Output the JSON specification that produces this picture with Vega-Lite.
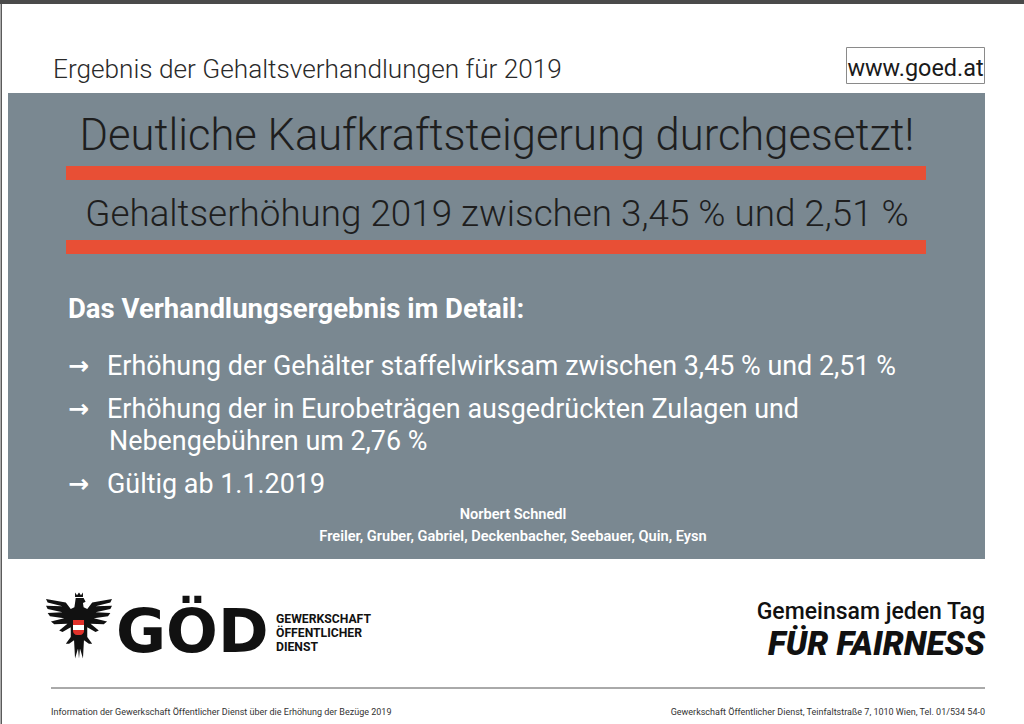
{
  "$schema": "https://vega.github.io/schema/vega-lite/v6.json",
  "width": 1024,
  "height": 724,
  "padding": 0,
  "autosize": {"type": "fit", "contains": "padding"},
  "background": "#ffffff",
  "config": {"view": {"stroke": null}},
  "datasets": {
    "topbar": [{"x": 0, "x2": 1024, "y": 0, "y2": 4}],
    "leftline": [{"x": 0.5, "x2": 2, "y": 4, "y2": 724}],
    "panel": [{"x": 8, "x2": 985, "y": 93, "y2": 559}],
    "redbars": [{"x": 66, "x2": 926, "y": 166, "y2": 180}, {"x": 66, "x2": 926, "y": 240, "y2": 254}],
    "urlbox": [{"x": 846.5, "x2": 984.5, "y": 47.5, "y2": 83.5}],
    "rules": [{"x": 51, "x2": 985, "y": 688}],
    "eagle": [{"x": 79, "y": 625.5}],
    "shieldred": [{"x": 73, "x2": 84, "y": 620, "y2": 635}],
    "shieldwhite": [{"x": 73, "x2": 84, "y": 625, "y2": 630}],
    "header": [{"x": 53, "y": 78, "t": "Ergebnis der Gehaltsverhandlungen für 2019"}],
    "url": [{"x": 915.5, "y": 76, "t": "www.goed.at"}],
    "title1": [{"x": 497, "y": 150, "t": "Deutliche Kaufkraftsteigerung durchgesetzt!"}],
    "title2": [{"x": 497, "y": 226, "t": "Gehaltserhöhung 2019 zwischen 3,45 % und 2,51 %"}],
    "subhead": [{"x": 68, "y": 318, "t": "Das Verhandlungsergebnis im Detail:"}],
    "arrows": [{"x": 68, "y": 374, "t": "→"}, {"x": 68, "y": 417, "t": "→"}, {"x": 68, "y": 492, "t": "→"}],
    "bullets": [
      {"x": 107, "y": 375, "t": "Erhöhung der Gehälter staffelwirksam zwischen 3,45 % und 2,51 %"},
      {"x": 107, "y": 418, "t": "Erhöhung der in Eurobeträgen ausgedrückten Zulagen und"},
      {"x": 109, "y": 450, "t": "Nebengebühren um 2,76 %"},
      {"x": 107, "y": 493, "t": "Gültig ab 1.1.2019"}
    ],
    "names": [
      {"x": 513, "y": 519, "t": "Norbert Schnedl"},
      {"x": 513, "y": 541, "t": "Freiler, Gruber, Gabriel, Deckenbacher, Seebauer, Quin, Eysn"}
    ],
    "god": [{"x": 116, "y": 652, "t": "GÖD"}],
    "godsub": [
      {"x": 276, "y": 623, "t": "GEWERKSCHAFT"},
      {"x": 276, "y": 637, "t": "ÖFFENTLICHER"},
      {"x": 276, "y": 651, "t": "DIENST"}
    ],
    "slogan1": [{"x": 985, "y": 619, "t": "Gemeinsam jeden Tag"}],
    "slogan2": [{"x": 985, "y": 655, "t": "FÜR FAIRNESS"}],
    "footleft": [{"x": 51, "y": 715, "t": "Information der Gewerkschaft Öffentlicher Dienst über die Erhöhung der Bezüge 2019"}],
    "footright": [{"x": 985, "y": 715, "t": "Gewerkschaft Öffentlicher Dienst, Teinfaltstraße 7, 1010 Wien, Tel. 01/534 54-0"}]
  },
  "encoding": {
    "x": {"field": "x", "type": "quantitative", "axis": null, "scale": {"domain": [0, 1024], "nice": false, "zero": false}},
    "y": {"field": "y", "type": "quantitative", "axis": null, "scale": {"domain": [0, 724], "reverse": true, "nice": false, "zero": false}}
  },
  "layer": [
    {"data": {"name": "topbar"}, "mark": {"type": "rect", "color": "#4a4a4a"}, "encoding": {"x2": {"field": "x2"}, "y2": {"field": "y2"}}},
    {"data": {"name": "leftline"}, "mark": {"type": "rect", "color": "#5a5a5a"}, "encoding": {"x2": {"field": "x2"}, "y2": {"field": "y2"}}},
    {"data": {"name": "panel"}, "mark": {"type": "rect", "color": "#7a8891"}, "encoding": {"x2": {"field": "x2"}, "y2": {"field": "y2"}}},
    {"data": {"name": "redbars"}, "mark": {"type": "rect", "color": "#e84f35"}, "encoding": {"x2": {"field": "x2"}, "y2": {"field": "y2"}}},
    {"data": {"name": "urlbox"}, "mark": {"type": "rect", "fill": "#ffffff", "stroke": "#8a8a8a", "strokeWidth": 1}, "encoding": {"x2": {"field": "x2"}, "y2": {"field": "y2"}}},
    {"data": {"name": "rules"}, "mark": {"type": "rule", "color": "#555555", "strokeWidth": 1}, "encoding": {"x2": {"field": "x2"}}},
    {"data": {"name": "eagle"}, "mark": {"type": "point", "filled": true, "color": "#111111", "opacity": 1, "size": 4356, "shape": "M -0.12 -1 L -0.06 -0.92 L 0 -1 L 0.06 -0.92 L 0.12 -1 L 0.12 -0.86 L -0.12 -0.86 Z M -0.1 -0.83 L 0.14 -0.83 L 0.2 -0.72 L 0.12 -0.68 L 0.14 -0.55 L 0.25 -0.5 L 0.4 -0.7 L 1 -0.8 L 0.95 -0.7 L 0.5 -0.58 L 1 -0.6 L 0.95 -0.5 L 0.5 -0.4 L 0.95 -0.38 L 0.88 -0.28 L 0.45 -0.22 L 0.85 -0.12 L 0.75 -0.04 L 0.35 -0.05 L 0.6 0.15 L 0.5 0.2 L 0.25 0.05 L 0.25 0.35 L 0.4 0.55 L 0.3 0.55 L 0.15 0.45 L 0.12 1 L 0.03 0.7 L 0 1 L -0.03 0.7 L -0.12 1 L -0.15 0.45 L -0.3 0.55 L -0.4 0.55 L -0.25 0.35 L -0.25 0.05 L -0.5 0.2 L -0.6 0.15 L -0.35 -0.05 L -0.75 -0.04 L -0.85 -0.12 L -0.45 -0.22 L -0.88 -0.28 L -0.95 -0.38 L -0.5 -0.4 L -0.95 -0.5 L -1 -0.6 L -0.5 -0.58 L -0.95 -0.7 L -1 -0.8 L -0.4 -0.7 L -0.25 -0.5 L -0.14 -0.55 L -0.12 -0.68 Z"}},
    {"data": {"name": "shieldred"}, "mark": {"type": "rect", "color": "#e0312a", "cornerRadiusBottomLeft": 4, "cornerRadiusBottomRight": 4}, "encoding": {"x2": {"field": "x2"}, "y2": {"field": "y2"}}},
    {"data": {"name": "shieldwhite"}, "mark": {"type": "rect", "color": "#ffffff"}, "encoding": {"x2": {"field": "x2"}, "y2": {"field": "y2"}}},
    {"data": {"name": "header"}, "mark": {"type": "text", "align": "left", "baseline": "alphabetic", "font": "Roboto", "fontWeight": 300, "fontSize": 26.2, "color": "#2a2a2a"}, "encoding": {"text": {"field": "t"}}},
    {"data": {"name": "url"}, "mark": {"type": "text", "align": "center", "baseline": "alphabetic", "font": "Roboto", "fontWeight": 400, "fontSize": 23.4, "color": "#1a1a1a"}, "encoding": {"text": {"field": "t"}}},
    {"data": {"name": "title1"}, "mark": {"type": "text", "align": "center", "baseline": "alphabetic", "font": "Roboto", "fontWeight": 300, "fontSize": 43.5, "color": "#1e1e1e"}, "encoding": {"text": {"field": "t"}}},
    {"data": {"name": "title2"}, "mark": {"type": "text", "align": "center", "baseline": "alphabetic", "font": "Roboto", "fontWeight": 300, "fontSize": 36.8, "color": "#1e1e1e"}, "encoding": {"text": {"field": "t"}}},
    {"data": {"name": "subhead"}, "mark": {"type": "text", "align": "left", "baseline": "alphabetic", "font": "Roboto", "fontWeight": 700, "fontSize": 27.5, "color": "#ffffff"}, "encoding": {"text": {"field": "t"}}},
    {"data": {"name": "arrows"}, "mark": {"type": "text", "align": "left", "baseline": "alphabetic", "font": "DejaVu Sans", "fontWeight": 700, "fontSize": 25, "color": "#ffffff"}, "encoding": {"text": {"field": "t"}}},
    {"data": {"name": "bullets"}, "mark": {"type": "text", "align": "left", "baseline": "alphabetic", "font": "Roboto", "fontWeight": 400, "fontSize": 26.9, "color": "#ffffff"}, "encoding": {"text": {"field": "t"}}},
    {"data": {"name": "names"}, "mark": {"type": "text", "align": "center", "baseline": "alphabetic", "font": "Roboto", "fontWeight": 600, "fontSize": 14.6, "color": "#ffffff"}, "encoding": {"text": {"field": "t"}}},
    {"data": {"name": "god"}, "mark": {"type": "text", "align": "left", "baseline": "alphabetic", "font": "DejaVu Sans", "fontWeight": 700, "fontSize": 61, "color": "#111111"}, "encoding": {"text": {"field": "t"}}},
    {"data": {"name": "godsub"}, "mark": {"type": "text", "align": "left", "baseline": "alphabetic", "font": "Roboto", "fontWeight": 700, "fontSize": 12.2, "color": "#111111"}, "encoding": {"text": {"field": "t"}}},
    {"data": {"name": "slogan1"}, "mark": {"type": "text", "align": "right", "baseline": "alphabetic", "font": "Roboto", "fontWeight": 500, "fontSize": 23, "color": "#111111"}, "encoding": {"text": {"field": "t"}}},
    {"data": {"name": "slogan2"}, "mark": {"type": "text", "align": "right", "baseline": "alphabetic", "font": "Roboto", "fontWeight": 900, "fontStyle": "italic", "fontSize": 33.3, "color": "#111111"}, "encoding": {"text": {"field": "t"}}},
    {"data": {"name": "footleft"}, "mark": {"type": "text", "align": "left", "baseline": "alphabetic", "font": "Roboto", "fontWeight": 400, "fontSize": 9, "color": "#333333"}, "encoding": {"text": {"field": "t"}}},
    {"data": {"name": "footright"}, "mark": {"type": "text", "align": "right", "baseline": "alphabetic", "font": "Roboto", "fontWeight": 400, "fontSize": 9, "color": "#333333"}, "encoding": {"text": {"field": "t"}}}
  ]
}
